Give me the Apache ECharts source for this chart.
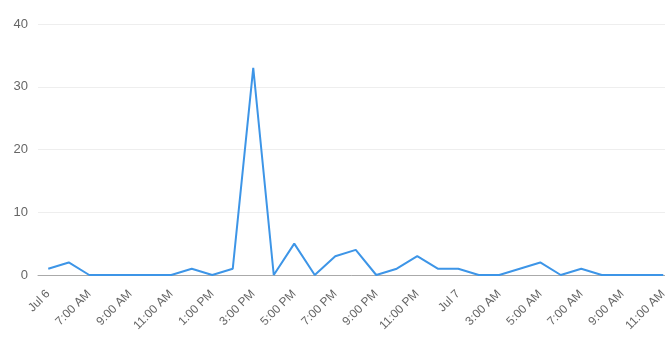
<!DOCTYPE html>
<html>
<head>
<meta charset="utf-8">
<script src="https://cdn.jsdelivr.net/npm/echarts@6/dist/echarts.min.js"></script>
<style>
html,body{margin:0;padding:0;background:#fff;overflow:hidden;}
#chart{width:665px;height:338px;}
</style>
</head>
<body>
<div id="chart"></div>
<script>
var categories = ["Jul 6","6:00 AM","7:00 AM","8:00 AM","9:00 AM","10:00 AM","11:00 AM","12:00 PM","1:00 PM","2:00 PM","3:00 PM","4:00 PM","5:00 PM","6:00 PM","7:00 PM","8:00 PM","9:00 PM","10:00 PM","11:00 PM","12:00 AM","Jul 7","2:00 AM","3:00 AM","4:00 AM","5:00 AM","6:00 AM","7:00 AM","8:00 AM","9:00 AM","10:00 AM","11:00 AM"];
var values = [1,2,0,0,0,0,0,1,0,1,33,0,5,0,3,4,0,1,3,1,1,0,0,1,2,0,1,0,0,0,0];
var yTicks = {min:0, max:40, interval:10};

var chart = echarts.init(document.getElementById('chart'), null, {renderer:'canvas'});
chart.setOption({
  animation:false,
  grid:{left:38, right:-8.5, top:24, bottom:63, containLabel:false, outerBoundsMode:'none'},
  xAxis:{
    type:'category',
    data:categories,
    boundaryGap:true,
    axisLine:{lineStyle:{color:'#aaaaaa'}},
    axisTick:{alignWithLabel:true, interval:1, length:5, lineStyle:{color:'#aaaaaa'}},
    axisLabel:{interval:1, rotate:45, color:'#666666', fontSize:12, fontFamily:'Liberation Sans, Arial, sans-serif', margin:17}
  },
  yAxis:{
    type:'value',
    min:yTicks.min, max:yTicks.max, interval:yTicks.interval,
    axisLine:{show:false},
    axisTick:{show:false},
    splitLine:{lineStyle:{color:'#eeeeee'}},
    axisLabel:{color:'#666666', fontSize:13, fontFamily:'Liberation Sans, Arial, sans-serif', margin:10}
  },
  series:[{
    type:'line',
    data:values,
    showSymbol:false,
    symbol:'none',
    clip:false,
    lineStyle:{color:'#3d95e7', width:2},
    itemStyle:{color:'#3d95e7'}
  }]
});
</script>
</body>
</html>
